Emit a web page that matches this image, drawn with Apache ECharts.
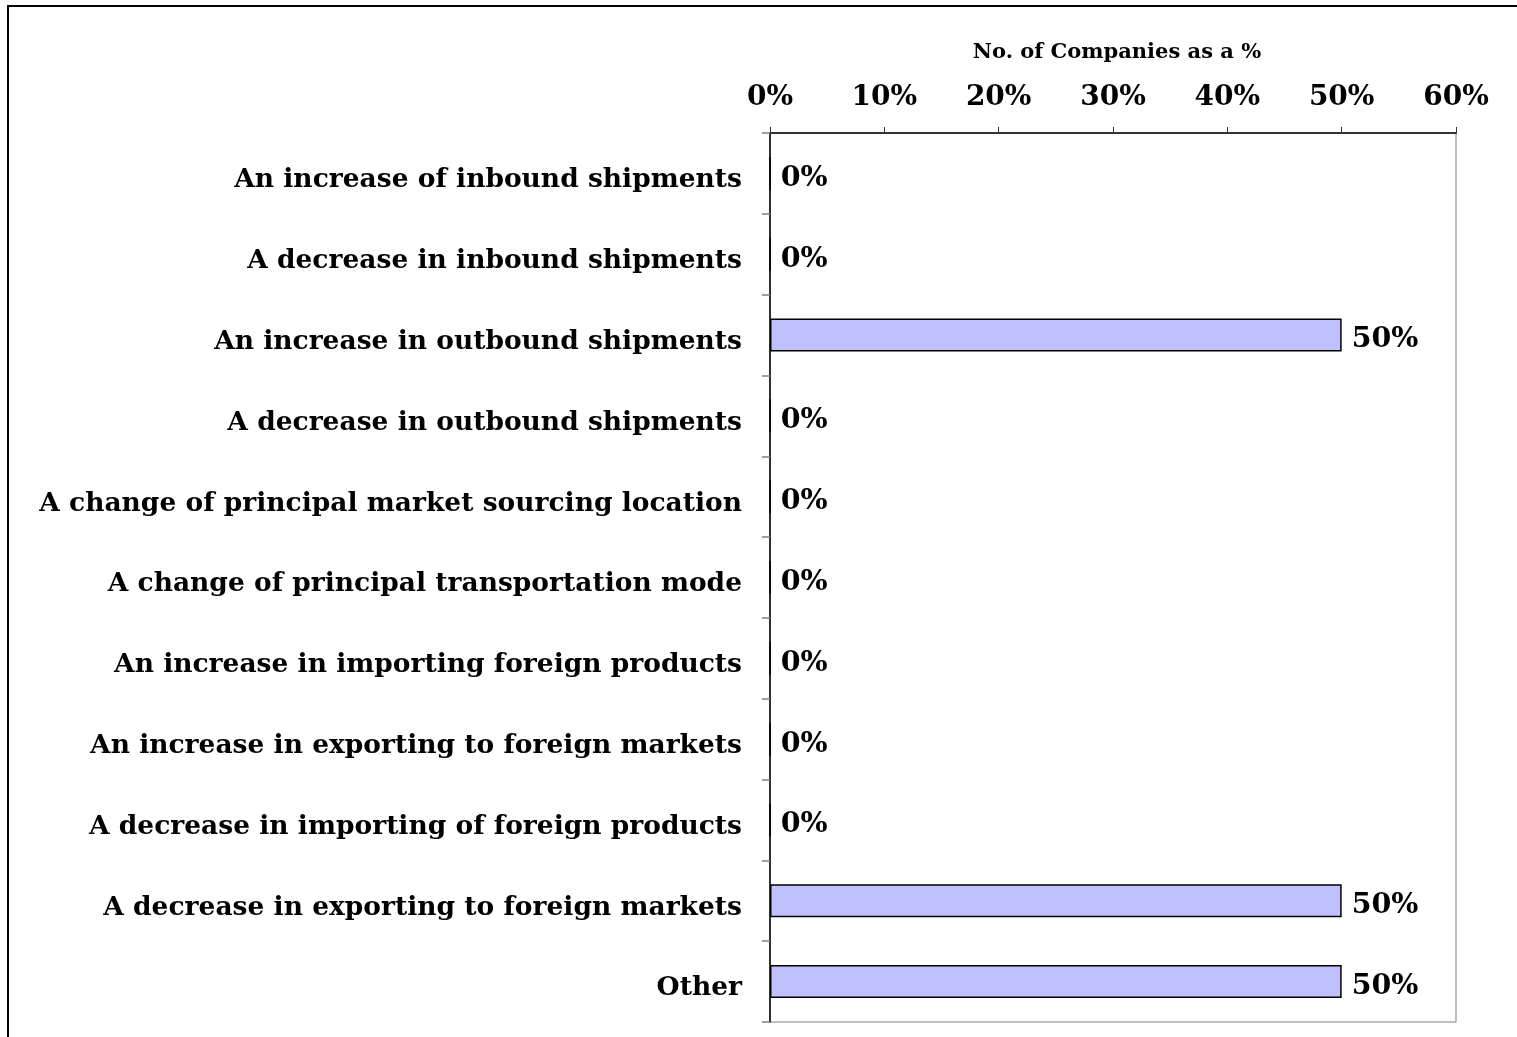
<!DOCTYPE html>
<html>
<head>
<meta charset="utf-8">
<script src="https://cdn.jsdelivr.net/npm/echarts@6/dist/echarts.min.js"></script>
<style>
html,body{margin:0;padding:0;background:#fff;}
#chart{width:1517px;height:1037px;}
</style>
</head>
<body>
<div id="chart"></div>
<script>
const categories = [
  "An increase of inbound shipments",
  "A decrease in inbound shipments",
  "An increase in outbound shipments",
  "A decrease in outbound shipments",
  "A change of principal market sourcing location",
  "A change of principal transportation mode",
  "An increase in importing foreign products",
  "An increase in exporting to foreign markets",
  "A decrease in importing of foreign products",
  "A decrease in exporting to foreign markets",
  "Other"
];
const values = [0, 0, 50, 0, 0, 0, 0, 0, 0, 50, 50];
const axisTitle = "No. of Companies as a %";
const xMin = 0, xMax = 60, xStep = 10;

const FONT = "'DejaVu Serif', 'Liberation Serif', serif";
const chart = echarts.init(document.getElementById('chart'), null, {renderer: 'canvas'});
chart.setOption({
  animation: false,
  backgroundColor: '#ffffff',
  title: {
    text: axisTitle,
    left: 1112, top: 37, textAlign: 'center',
    textStyle: {fontFamily: FONT, fontWeight: 'bold', fontSize: 21, color: '#000'}
  },
  graphic: [{
    type: 'rect', silent: true,
    shape: {x: 8, y: 6, width: 1600, height: 1200},
    style: {fill: null, stroke: '#000', lineWidth: 2}
  }],
  grid: {
    left: 770, right: 61, top: 133, bottom: 15,
    show: true, borderColor: '#808080', borderWidth: 1, backgroundColor: 'transparent'
  },
  xAxis: {
    type: 'value', position: 'top',
    min: xMin, max: xMax, interval: xStep,
    axisLine: {show: true, lineStyle: {color: '#333', width: 2}},
    axisTick: {show: true, length: 6, lineStyle: {color: '#333', width: 1}},
    splitLine: {show: false},
    axisLabel: {
      formatter: '{value}%', margin: 21,
      fontFamily: FONT, fontWeight: 'bold', fontSize: 28, color: '#000'
    }
  },
  yAxis: {
    type: 'category', inverse: true, data: categories,
    axisLine: {show: true, lineStyle: {color: '#000', width: 1.5}},
    axisTick: {show: true, length: 8, lineStyle: {color: '#808080', width: 1.5}},
    axisLabel: {
      margin: 28,
      formatter: v => '{a|' + v + '}',
      rich: {a: {fontFamily: FONT, fontWeight: 'bold', fontSize: 26.5, color: '#000', padding: [14, 0, 0, 0]}}
    }
  },
  series: [{
    type: 'bar', data: values, barWidth: 33,
    itemStyle: {color: '#C0C0FF', borderColor: '#000', borderWidth: 1.5},
    label: {
      show: true, position: 'right', distance: 10,
      formatter: p => '{a|' + p.value + '%}',
      rich: {a: {fontFamily: FONT, fontWeight: 'bold', fontSize: 28.5, color: '#000', padding: [10, 0, 0, 0]}}
    }
  }]
});
</script>
</body>
</html>
